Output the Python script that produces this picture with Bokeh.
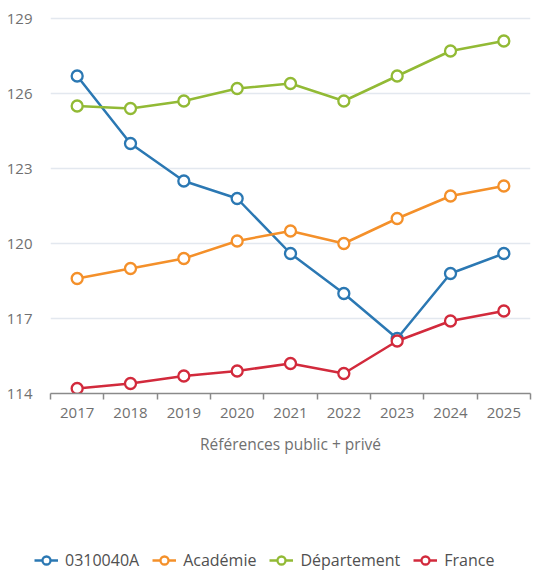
from bokeh.plotting import figure
from bokeh.models import FixedTicker, Legend, LegendItem, Range1d
from bokeh.layouts import column
from bokeh.embed import file_html
from bokeh.resources import INLINE

years = [2017, 2018, 2019, 2020, 2021, 2022, 2023, 2024, 2025]
etab = [126.7, 124.0, 122.5, 121.8, 119.6, 118.0, 116.2, 118.8, 119.6]
academie = [118.6, 119.0, 119.4, 120.1, 120.5, 120.0, 121.0, 121.9, 122.3]
departement = [125.5, 125.4, 125.7, 126.2, 126.4, 125.7, 126.7, 127.7, 128.1]
france = [114.2, 114.4, 114.7, 114.9, 115.2, 114.8, 116.1, 116.9, 117.3]
y_ticks = [114, 117, 120, 123, 126, 129]
series_names = ["0310040A", "Académie", "Département", "France"]
colors = ["#2b78b3", "#f4902a", "#92ba35", "#d22a3c"]
x_title = "Références public + privé"

FONT = "Open Sans"
TXT = "#707070"
W = 534

p = figure(width=W, height=468, output_backend="svg", toolbar_location=None,
           x_range=Range1d(years[0] - 0.5, years[-1] + 0.5),
           y_range=Range1d(114, 129.32),
           min_border_left=50, min_border_right=4, min_border_top=10,
           min_border_bottom=75)
p.outline_line_color = None
p.background_fill_color = "white"
p.border_fill_color = "white"
p.frame_align = False

xa = p.xaxis[0]
xa.ticker = FixedTicker(ticks=years, minor_ticks=[y - 0.5 for y in years] + [years[-1] + 0.5])
xa.major_tick_out = 0
xa.major_tick_in = 0
xa.minor_tick_out = 6
xa.minor_tick_in = 0
xa.minor_tick_line_color = "#8a8a8a"
xa.minor_tick_line_width = 1.5
xa.axis_line_color = "#8a8a8a"
xa.axis_line_width = 1.5
xa.major_label_text_font = FONT
xa.major_label_text_font_size = "15px"
xa.major_label_text_color = TXT
xa.major_label_standoff = 8
xa.axis_label = x_title
xa.axis_label_text_font = FONT
xa.axis_label_text_font_size = "15.5px"
xa.axis_label_text_font_style = "normal"
xa.axis_label_text_color = TXT
xa.axis_label_standoff = 12

ya = p.yaxis[0]
ya.ticker = FixedTicker(ticks=y_ticks)
ya.axis_line_color = None
ya.major_tick_line_color = None
ya.minor_tick_line_color = None
ya.major_label_text_font = FONT
ya.major_label_text_font_size = "15px"
ya.major_label_text_color = TXT
ya.major_label_standoff = 12

p.xgrid.grid_line_color = None
p.ygrid.ticker = FixedTicker(ticks=y_ticks)
p.ygrid.grid_line_color = "#e3e8ef"
p.ygrid.grid_line_width = 1.5

all_series = [etab, academie, departement, france]
for vals, c in zip(all_series, colors):
    p.line(years, vals, line_color=c, line_width=2.5)
    p.scatter(years, vals, size=11, fill_color="white", line_color=c, line_width=2.3)

# legend strip below the chart (same series, drawn outside this strip's ranges)
lg = figure(width=W, height=105, output_backend="svg", toolbar_location=None,
            x_range=Range1d(0, 1), y_range=Range1d(0, 1),
            min_border_left=0, min_border_right=0, min_border_top=0, min_border_bottom=0)
lg.frame_align = False
lg.outline_line_color = None
lg.axis.visible = False
lg.grid.visible = False
lg.background_fill_color = "white"
lg.border_fill_color = "white"

items = []
for name, vals, c in zip(series_names, all_series, colors):
    lr = lg.line(years, vals, line_color=c, line_width=2.5)
    sr = lg.scatter(years, vals, size=11, fill_color="white", line_color=c, line_width=2.3)
    items.append(LegendItem(label=name, renderers=[lr, sr]))

legend = Legend(items=items, orientation="horizontal", location=(34, 2))
legend.background_fill_alpha = 0
legend.border_line_alpha = 0
legend.padding = 0
legend.margin = 0
legend.glyph_width = 24
legend.glyph_height = 20
legend.label_standoff = 7
legend.spacing = 13
legend.label_text_font = FONT
legend.label_text_font_size = "16px"
legend.label_text_color = "#505050"
lg.add_layout(legend, "center")

layout = column(p, lg, spacing=0)
open("out.html", "w").write(file_html(layout, INLINE))
